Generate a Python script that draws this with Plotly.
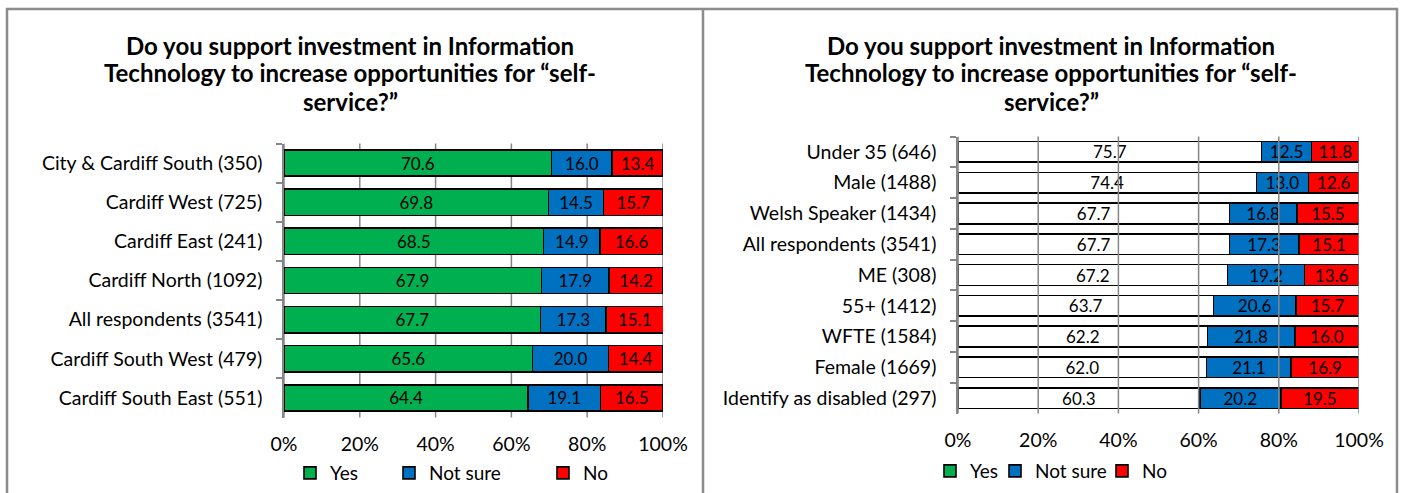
import plotly.graph_objects as go

# ---- data -------------------------------------------------------------
TITLE_LINES = [
    "Do you support investment in Information",
    "Technology to increase opportunities for \u201cself-",
    "service?\u201d",
]

area_labels = [
    "City & Cardiff South (350)",
    "Cardiff West (725)",
    "Cardiff East (241)",
    "Cardiff North (1092)",
    "All respondents (3541)",
    "Cardiff South West (479)",
    "Cardiff South East (551)",
]
area_yes = [70.6, 69.8, 68.5, 67.9, 67.7, 65.6, 64.4]
area_notsure = [16.0, 14.5, 14.9, 17.9, 17.3, 20.0, 19.1]
area_no = [13.4, 15.7, 16.6, 14.2, 15.1, 14.4, 16.5]

group_labels = [
    "Under 35 (646)",
    "Male (1488)",
    "Welsh Speaker (1434)",
    "All respondents (3541)",
    "ME (308)",
    "55+ (1412)",
    "WFTE (1584)",
    "Female (1669)",
    "Identify as disabled (297)",
]
group_yes = [75.7, 74.4, 67.7, 67.7, 67.2, 63.7, 62.2, 62.0, 60.3]
group_notsure = [12.5, 13.0, 16.8, 17.3, 19.2, 20.6, 21.8, 21.1, 20.2]
group_no = [11.8, 12.6, 15.5, 15.1, 13.6, 15.7, 16.0, 16.9, 19.5]

series_names = ["Yes", "Not sure", "No"]
x_ticks = [0, 20, 40, 60, 80, 100]
x_tick_text = ["0%", "20%", "40%", "60%", "80%", "100%"]

# ---- styling ------------------------------------------------------------
W, H = 1402, 493
FONT = "Lato"
GREEN, BLUE, RED = "#00B050", "#0070C0", "#FF0000"
GRID = "#868686"
FRAME = "#8C8C8C"
LABEL_SIZE = 17


def px_x(v):
    return v / W


def px_y(v):
    return 1 - v / H


fig = go.Figure()

# left panel: stacked bars by area, each series in its own legend box
left_legends = ["legend", "legend2", "legend3"]
for name, vals, col, lg in zip(series_names, [area_yes, area_notsure, area_no],
                               [GREEN, BLUE, RED], left_legends):
    fig.add_trace(go.Bar(
        name=name, y=area_labels, x=vals, orientation="h",
        marker=dict(color=col, line=dict(color="black", width=1.6)),
        text=vals, texttemplate="%{x:.1f}", textposition="inside",
        insidetextanchor="middle", textangle=0, constraintext="none",
        textfont=dict(family=FONT, size=LABEL_SIZE, color="black"),
        xaxis="x", yaxis="y", legend=lg, hoverinfo="skip",
    ))

# right panel: stacked bars by group ("Yes" drawn unfilled)
for name, vals, col in zip(series_names, [group_yes, group_notsure, group_no],
                           ["white", BLUE, RED]):
    fig.add_trace(go.Bar(
        name=name, y=group_labels, x=vals, orientation="h",
        marker=dict(color=col, line=dict(color="black", width=1.6)),
        text=vals, texttemplate="%{x:.1f}", textposition="inside",
        insidetextanchor="middle", textangle=0, constraintext="none",
        textfont=dict(family=FONT, size=LABEL_SIZE, color="black"),
        xaxis="x2", yaxis="y2", showlegend=False, hoverinfo="skip",
    ))

# legend keys for the right panel
right_legends = ["legend4", "legend5", "legend6"]
for name, col, lg in zip(series_names, [GREEN, BLUE, RED], right_legends):
    fig.add_trace(go.Bar(
        name=name, y=[None], x=[None], orientation="h",
        marker=dict(color=col, line=dict(color="black", width=1.6)),
        xaxis="x2", yaxis="y2", legend=lg, showlegend=True,
    ))

axis_font = dict(family=FONT, size=19.5, color="black")

x_common = dict(
    range=[0, 100], tickmode="array", tickvals=x_ticks, ticktext=x_tick_text,
    tickfont=axis_font, showline=False, zeroline=False, ticks="",
    showgrid=False, fixedrange=True, ticklabelstandoff=13, automargin=False,
)
y_common = dict(
    type="category", autorange="reversed", tickfont=axis_font,
    showline=True, linecolor=GRID, linewidth=1.5, ticks="outside",
    tickson="boundaries", ticklen=6, tickcolor=GRID, tickwidth=1.5,
    showgrid=False, ticklabelstandoff=16, fixedrange=True, automargin=False,
)

fig.update_layout(
    width=W, height=H,
    margin=dict(l=0, r=0, t=0, b=0, autoexpand=False),
    paper_bgcolor="white", plot_bgcolor="white",
    barmode="stack", bargap=0.33,
    font=dict(family=FONT, color="black"),
    xaxis=dict(domain=[px_x(284), px_x(663)], anchor="y", **x_common),
    yaxis=dict(domain=[px_y(417.5), px_y(143.5)], anchor="x",
               categoryorder="array", categoryarray=area_labels, **y_common),
    xaxis2=dict(domain=[px_x(958), px_x(1359)], anchor="y2", **x_common),
    yaxis2=dict(domain=[px_y(413.5), px_y(136.5)], anchor="x2",
                categoryorder="array", categoryarray=group_labels, **y_common),
)

legend_font = dict(family=FONT, size=19, color="black")
legend_pos = {
    "legend": 310, "legend2": 409, "legend3": 563,
    "legend4": 950, "legend5": 1015, "legend6": 1122,
}
for lg, sq_x in legend_pos.items():
    y_px = 473 if lg in left_legends else 471
    fig.update_layout({lg: dict(
        x=px_x(sq_x - 20), y=px_y(y_px), xanchor="left", yanchor="middle",
        orientation="h", font=legend_font, bgcolor="rgba(0,0,0,0)",
        borderwidth=0, itemclick=False, itemdoubleclick=False,
    )})

# titles, one annotation per line
for cx in (350, 1051):
    for i, line in enumerate(TITLE_LINES):
        fig.add_annotation(
            text="<b>" + line + "</b>", x=px_x(cx), y=px_y(45 + 28 * i),
            xref="paper", yref="paper", xanchor="center", yanchor="middle",
            showarrow=False, font=dict(family=FONT, size=24, color="black"),
        )

# gridlines: behind the bars on the left, on top of them on the right
for xr, yr, lay in (("x", "y domain", "below"), ("x2", "y2 domain", "above")):
    for t in x_ticks:
        fig.add_shape(type="line", xref=xr, yref=yr, x0=t, x1=t, y0=0, y1=1,
                      line=dict(color=GRID, width=1.5), layer=lay)

# panel frames
frame = dict(color=FRAME, width=2.5)
fig.add_shape(type="line", xref="paper", yref="paper", x0=px_x(6), x1=px_x(1398),
              y0=px_y(9), y1=px_y(9), line=frame)
for xp in (7, 703, 1397):
    fig.add_shape(type="line", xref="paper", yref="paper", x0=px_x(xp), x1=px_x(xp),
                  y0=0, y1=px_y(8), line=frame)

fig.write_html("out.html")
